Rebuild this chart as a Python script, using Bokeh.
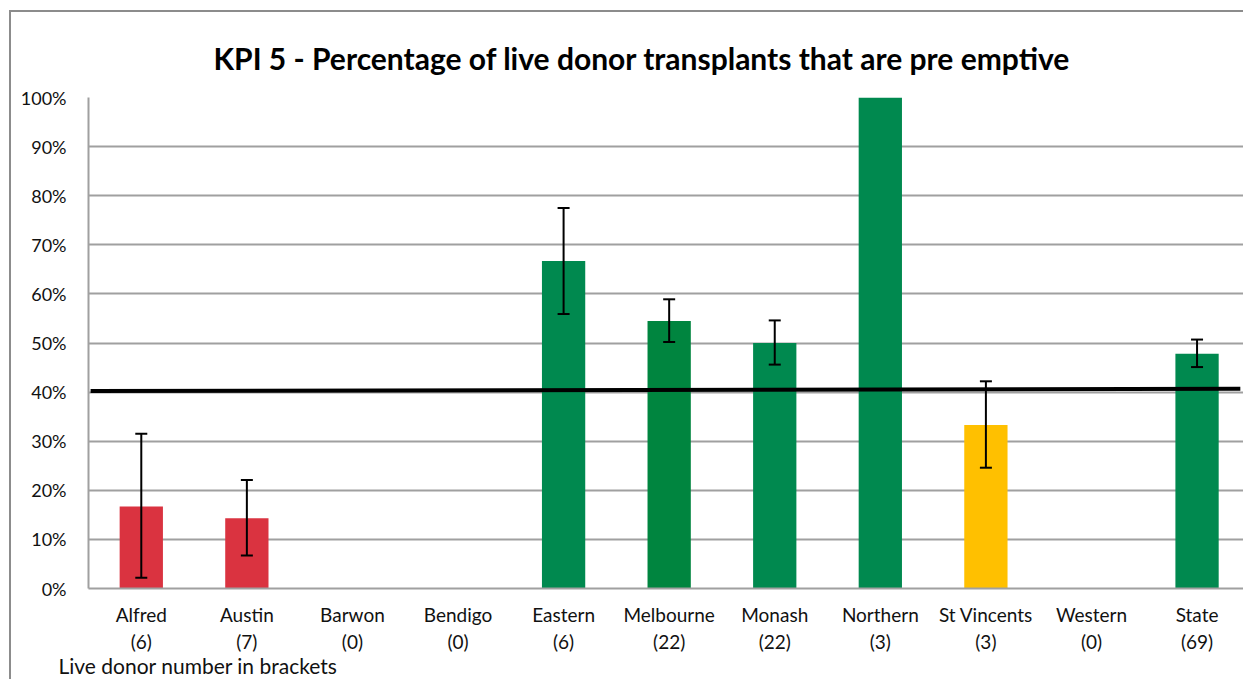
from bokeh.plotting import figure
from bokeh.models import (ColumnDataSource, Range1d, FixedTicker, Title,
                          PrintfTickFormatter, Whisker, TeeHead, InlineStyleSheet)
from bokeh.embed import file_html
from bokeh.resources import INLINE

# ---------------- data ----------------
hospitals = ["Alfred", "Austin", "Barwon", "Bendigo", "Eastern", "Melbourne",
             "Monash", "Northern", "St Vincents", "Western", "State"]
donors = [6, 7, 0, 0, 6, 22, 22, 3, 3, 0, 69]
pct_pre_emptive = [16.7, 14.3, 0, 0, 66.7, 54.5, 50.0, 100.0, 33.3, 0, 47.8]
ci_lower = [2.2, 6.7, None, None, 55.9, 50.2, 45.6, None, 24.6, None, 45.1]
ci_upper = [31.5, 22.1, None, None, 77.5, 58.9, 54.6, None, 42.2, None, 50.7]
bar_colors = ["#DA3340", "#DA3340", "#00894F", "#00894F", "#00894F", "#00853F",
              "#00894F", "#00894F", "#FFC000", "#00894F", "#00894F"]
target_start = 40.2
target_end = 40.7
y_ticks = [0, 10, 20, 30, 40, 50, 60, 70, 80, 90, 100]
title_text = "KPI 5 - Percentage  of live donor transplants that are pre emptive"
footnote_text = "Live donor number in brackets"

FONT = "Lato"

n = len(hospitals)
xpos = [i + 0.5 for i in range(n)]
labels = [f"{h}\n({d})" for h, d in zip(hospitals, donors)]

bars = ColumnDataSource(dict(x=xpos, top=pct_pre_emptive, color=bar_colors))
eb_idx = [i for i, v in enumerate(ci_lower) if v is not None]
errs = ColumnDataSource(dict(x=[xpos[i] for i in eb_idx],
                             lower=[ci_lower[i] for i in eb_idx],
                             upper=[ci_upper[i] for i in eb_idx]))

W, H = 1243, 679
p = figure(width=W, height=H, x_range=Range1d(0, 10.94), y_range=Range1d(0, 100),
           output_backend="svg", toolbar_location=None,
           min_border_left=88, min_border_top=97, min_border_right=0,
           min_border_bottom=H - 588)
p.stylesheets = [InlineStyleSheet(css=(
    ":host::after { content: ''; position: absolute; left: 9px; top: 10px; "
    "right: 0; bottom: 0; border-left: 2px solid #8C8C8C; border-top: 2px solid #8C8C8C; "
    "pointer-events: none; z-index: 100; }"))]

p.vbar(x="x", top="top", width=0.41, color="color", line_color=None, source=bars)

p.add_layout(Whisker(base="x", lower="lower", upper="upper", source=errs,
                     level="annotation", line_color="black", line_width=2,
                     upper_head=TeeHead(size=12, line_width=2, line_color="black"),
                     lower_head=TeeHead(size=12, line_width=2, line_color="black")))

p.line(x=[0.02, 10.91], y=[target_start, target_end], line_color="black", line_width=4)

p.outline_line_color = None
p.xgrid.grid_line_color = None
p.ygrid.grid_line_color = "#A0A0A0"
p.ygrid.grid_line_width = 2
p.yaxis.ticker = FixedTicker(ticks=y_ticks)
p.yaxis.formatter = PrintfTickFormatter(format="%d%%")
p.xaxis.ticker = FixedTicker(ticks=xpos)
p.xaxis.major_label_overrides = {x: lab for x, lab in zip(xpos, labels)}
for ax in (p.xaxis, p.yaxis):
    ax.axis_line_color = "#A0A0A0"
    ax.axis_line_width = 2
    ax.major_tick_line_color = None
    ax.minor_tick_line_color = None
    ax.major_label_text_font = FONT
    ax.major_label_text_color = "#111111"
p.yaxis.major_label_text_font_size = "18px"
p.xaxis.major_label_text_font_size = "19px"
p.yaxis.major_label_standoff = 16
p.xaxis.major_label_standoff = 8

p.add_layout(Title(text=title_text, align="left", offset=125, standoff=43,
                   text_font=FONT, text_font_style="bold", text_font_size="30px",
                   text_color="black"), "above")
p.add_layout(Title(text=footnote_text, align="left", offset=-30, standoff=-12,
                   text_font=FONT, text_font_style="normal", text_font_size="21px",
                   text_color="#111111"), "below")

open("out.html", "w").write(file_html(p, INLINE))
